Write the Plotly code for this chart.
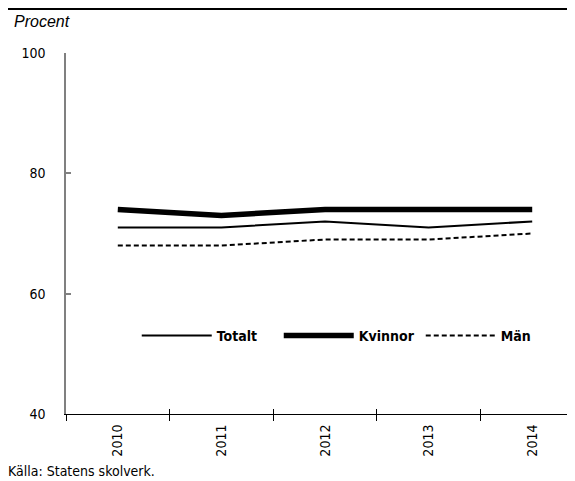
import plotly.graph_objects as go

years = ["2010", "2011", "2012", "2013", "2014"]
totalt = [71, 71, 72, 71, 72]
kvinnor = [74, 73, 74, 74, 74]
man = [68, 68, 69, 69, 70]
y_ticks = [40, 60, 80, 100]

FONT = "DejaVu Sans Condensed, Liberation Sans Narrow, Roboto, sans-serif"

fig = go.Figure()
fig.add_trace(go.Scatter(x=years, y=totalt, name="Totalt", mode="lines",
                         line=dict(color="black", width=2)))
fig.add_trace(go.Scatter(x=years, y=kvinnor, name="Kvinnor", mode="lines",
                         line=dict(color="black", width=5.5)))
fig.add_trace(go.Scatter(x=years, y=man, name="Män", mode="lines",
                         line=dict(color="black", width=2, dash="5px,3px")))
# helper trace for crossing tick marks on the x axis
fig.add_trace(go.Scatter(x=years, y=totalt, xaxis="x2", mode="lines",
                         line=dict(width=0), showlegend=False, hoverinfo="skip",
                         opacity=0))

fig.update_layout(
    width=567, height=473,
    margin=dict(l=58, r=0, t=45, b=67, autoexpand=False),
    paper_bgcolor="white", plot_bgcolor="white",
    font=dict(family=FONT, size=14, color="black"),
    showlegend=True,
    legend=dict(orientation="h", x=0.139, y=0.216, xanchor="left", yanchor="middle",
                font=dict(family=FONT, size=14, color="black", weight="bold"),
                bgcolor="rgba(0,0,0,0)", itemwidth=70, entrywidth=57,
                entrywidthmode="pixels"),
    xaxis=dict(type="category", range=[-0.5, 4.413], tickson="boundaries",
               ticks="outside", ticklen=6, tickcolor="black", tickwidth=1,
               showline=True, linecolor="black", linewidth=1,
               tickangle=-90, showgrid=False, zeroline=False,
               tickfont=dict(family=FONT, size=14), ticklabelstandoff=4),
    xaxis2=dict(type="category", overlaying="x", matches="x", anchor="y",
                side="bottom", tickson="boundaries", ticks="inside", ticklen=5,
                tickcolor="black", tickwidth=1, showticklabels=False,
                showline=False, showgrid=False, zeroline=False),
    yaxis=dict(range=[40, 100], tickvals=y_ticks, ticks="inside", ticklen=5,
               tickcolor="#808080", tickwidth=1.5,
               showline=True, linecolor="#808080", linewidth=1.5,
               showgrid=False, zeroline=False,
               tickfont=dict(family=FONT, size=14), ticklabelstandoff=16),
    shapes=[dict(type="line", xref="paper", yref="paper", x0=-0.2, x1=1.1,
                 y0=1.122, y1=1.122, line=dict(color="black", width=2))],
    annotations=[
        dict(text="Procent", xref="paper", yref="paper", x=-0.106, y=1.058,
             xanchor="left", yanchor="bottom", showarrow=False,
             font=dict(family="Liberation Sans", size=16, style="italic")),
        dict(text="Källa: Statens skolverk.", xref="paper", yref="paper",
             x=-0.118, y=-0.13, xanchor="left", yanchor="top", showarrow=False,
             font=dict(family=FONT, size=14)),
    ],
)

fig.write_html("out.html")
